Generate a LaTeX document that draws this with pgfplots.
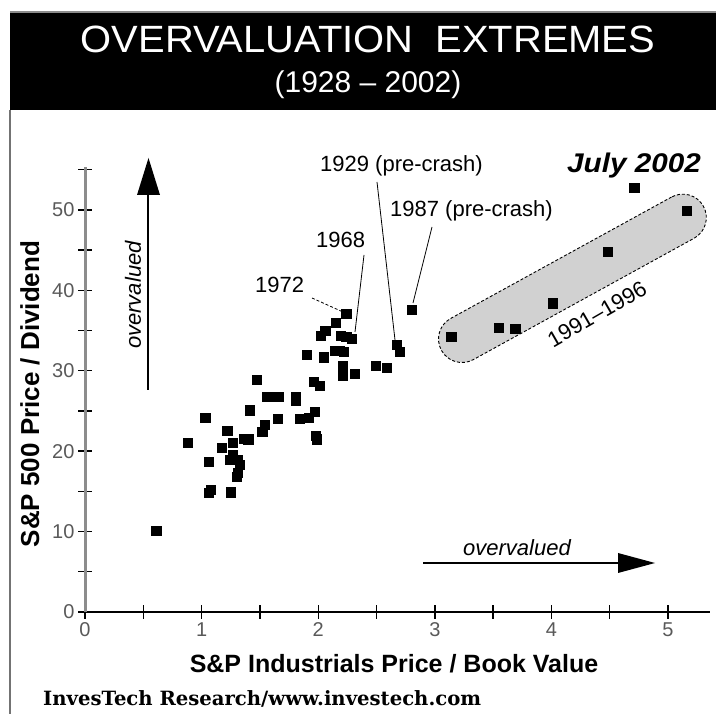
\documentclass[border=0pt]{standalone}
\usepackage{fontspec}
\setmainfont{Liberation Sans}
\newfontfamily\footfont{DejaVu Serif}
\usepackage{pgfplots}
\usepackage{graphicx}
\pgfplotsset{compat=1.18}
\newcommand{\fs}[1]{\fontsize{#1bp}{#1bp}\selectfont}
\pgfplotstableread{
x y
0.61 10.1
1.06 14.8
1.08 15.2
1.25 14.9
1.30 16.8
1.31 17.3
1.33 18.3
1.31 18.9
1.24 18.9
1.06 18.7
1.27 19.5
1.17 20.4
1.27 21.1
1.36 21.6
1.40 21.5
0.88 21.1
1.22 22.5
1.03 24.2
1.41 25.1
1.52 22.4
1.54 23.3
1.65 24.0
1.84 24.0
1.92 24.2
1.97 24.9
1.98 21.9
1.99 21.5
1.56 26.8
1.61 26.8
1.66 26.8
1.81 26.8
1.81 26.3
1.47 28.9
1.96 28.6
2.01 28.1
1.90 32.0
2.05 31.7
2.14 32.5
2.18 32.5
2.22 32.4
2.21 30.6
2.21 29.4
2.31 29.6
2.49 30.6
2.59 30.4
2.02 34.4
2.06 35.0
2.15 36.0
2.24 37.1
2.19 34.4
2.24 34.2
2.29 34.0
2.67 33.2
2.70 32.4
2.80 37.6
3.14 34.2
3.55 35.4
3.69 35.2
4.01 38.4
4.48 44.8
5.16 49.9
4.71 52.8
}\pts
\begin{document}
\begin{tikzpicture}[x=1bp,y=1bp]
\path[use as bounding box] (0,0) rectangle (722,714);
% banner
\fill[black] (10,604) rectangle (716,701);
\draw[black!45, line width=1.2bp] (10,702) -- (716,702);
\draw[black!55, line width=1.5bp] (10,0) -- (10,604);
\node[white, anchor=base, inner sep=0] at (368,661) {\scalebox{1.05}[1]{\fs{38}OVERVALUATION\ \ EXTREMES}};
\node[white, anchor=base, inner sep=0] at (368,621) {\fs{30}(1928 – 2002)};
\begin{axis}[
  at={(85bp,102bp)}, anchor=origin,
  scale only axis, width=625bp, height=444.6bp,
  xmin=0, xmax=5.36, ymin=0, ymax=55.3,
  axis x line=bottom, axis y line=left,
  x axis line style={-, line width=2.2bp, black},
  y axis line style={-, line width=3bp, black!45},
  xtick={0,...,5}, minor xtick={0.5,1.5,...,4.5},
  ytick={0,10,...,50}, minor ytick={5,15,...,55},
  tick align=center, major tick length=14bp, minor tick length=14bp,
  every tick/.style={black, line width=1.4bp},
  minor tick style={black, line width=1.4bp},
  ticklabel style={font=\fs{20}, text=black!65},
  /pgf/number format/assume math mode=true,
  clip=false,
]
\node[draw=black, densely dashed, line width=0.9bp, fill=black!18,
  rounded corners=23.5bp, minimum width=299bp, minimum height=47bp,
  rotate=28.8, inner sep=0] at (axis cs:4.18,41.5) {};
\addplot[only marks, mark=square*, mark size=4.6bp, black] table[x=x,y=y] {\pts};
\end{axis}
% annotations
\node[anchor=base west, inner sep=0] at (320,542) {\fs{22}1929 (pre-crash)};
\node[anchor=base west, inner sep=0] at (390,497) {\fs{22}1987 (pre-crash)};
\node[anchor=base west, inner sep=0] at (316,466) {\fs{22}1968};
\node[anchor=base west, inner sep=0] at (255,421) {\fs{22}1972};
\node[anchor=base west, inner sep=0] at (567,541) {\scalebox{1.1}[1]{\fs{27}\bfseries\itshape July 2002}};
\draw[line width=0.8bp, densely dashed] (312,416) -- (343,402);
\draw[line width=0.8bp] (364,459) -- (355,382);
\draw[line width=0.8bp] (377,532) -- (395,374);
\draw[line width=0.8bp] (432,487) -- (413,411);
\node[rotate=30, inner sep=0] at (597,400) {\fs{22}1991–1996};
\node[inner sep=0] at (517,166) {\fs{22}\itshape overvalued};
\node[rotate=90, inner sep=0] at (133,419) {\fs{22}\itshape overvalued};
\draw[line width=2bp] (148,324) -- (148,524);
\fill (137,519) -- (160,519) -- (148.5,556) -- cycle;
\draw[line width=2bp] (423,151) -- (625,151);
\fill (618,161) -- (618,141) -- (655,151) -- cycle;
% axis labels
\node[anchor=base, inner sep=0] at (394,41) {\fs{25}\bfseries S\&P Industrials Price / Book Value};
\node[rotate=90, inner sep=0] at (30,320) {\fs{26}\bfseries S\&P 500 Price / Dividend};
\node[anchor=base west, inner sep=0] at (43,9) {\resizebox{438bp}{!}{\footfont\bfseries InvesTech Research/www.investech.com}};
\end{tikzpicture}
\end{document}
